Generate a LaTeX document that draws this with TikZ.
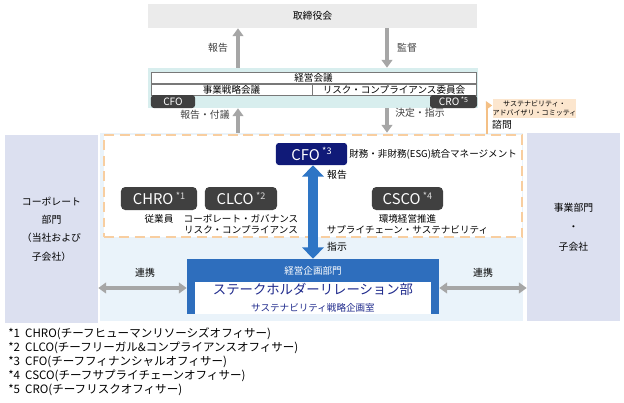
\documentclass[tikz,border=0pt]{standalone}
\usepackage{fontspec}
\setmainfont{Noto Sans CJK JP}
\usepackage{tikz}
\usetikzlibrary{arrows.meta,positioning,calc}
\usepackage{xcolor}
\definecolor{boardgray}{RGB}{235,235,235}
\definecolor{arrowgray}{RGB}{166,166,166}
\definecolor{meetteal}{RGB}{216,238,238}
\definecolor{cellline}{RGB}{120,120,120}
\definecolor{tagdark}{RGB}{64,64,64}
\definecolor{bandblue}{RGB}{234,243,250}
\definecolor{panellav}{RGB}{220,224,240}
\definecolor{frameorange}{RGB}{248,206,160}
\definecolor{susfill}{RGB}{252,230,206}
\definecolor{susline}{RGB}{244,192,134}
\definecolor{cfonavy}{RGB}{16,26,120}
\definecolor{arrowblue}{RGB}{46,117,197}
\definecolor{planblue}{RGB}{46,110,189}
\definecolor{stakenavy}{RGB}{31,42,140}
\definecolor{labelgray}{RGB}{64,64,64}
\tikzstyle{grayarrow} = [line width=2.8pt, arrowgray, -{Triangle[width=7.5pt,length=5.5pt]}]
\tikzstyle{grayboth} = [line width=2.6pt, arrowgray, {Triangle[width=7.5pt,length=5.5pt]}-{Triangle[width=7.5pt,length=5.5pt]}]
\tikzstyle{bluearrow} = [line width=7pt, arrowblue, {Triangle[width=15pt,length=8pt]}-{Triangle[width=15pt,length=8pt]}]
\tikzstyle{orangearrow} = [line width=2pt, susline, -{Triangle[width=6pt,length=4.5pt]}]
\tikzstyle{boardbox} = [rectangle, fill=boardgray, inner sep=0pt, minimum width=8.225cm, minimum height=0.6cm, font=\fontsize{7}{8}\selectfont]
\tikzstyle{meetbox} = [rectangle, fill=meetteal, inner sep=0pt, minimum width=8.25cm, minimum height=1cm]
\tikzstyle{tablecell} = [rectangle, draw=cellline, line width=0.4pt, fill=white, inner sep=0pt, minimum height=0.285cm, font=\fontsize{6.8}{7.5}\selectfont]
\tikzstyle{darktag} = [rectangle, rounded corners=2pt, fill=tagdark, text=white, inner sep=0pt, minimum height=0.325cm, font=\fontsize{7.2}{8}\selectfont]
\tikzstyle{panelbox} = [rectangle, fill=panellav, inner sep=0pt, minimum width=2.325cm, minimum height=4.7cm, align=center, font=\fontsize{7}{13}\selectfont]
\tikzstyle{framebox} = [rectangle, draw=frameorange, line width=1.5pt, dash pattern=on 7pt off 4pt, fill=white, inner sep=0pt, minimum width=10.45cm, minimum height=2.55cm]
\tikzstyle{officerbox} = [rectangle, rounded corners=3pt, fill=tagdark, text=white, inner sep=0pt, minimum height=0.575cm, font=\fontsize{10.5}{12}\selectfont]
\tikzstyle{labeltext} = [inner sep=0pt, text=labelgray, font=\fontsize{7}{8}\selectfont]
\tikzstyle{dutytext} = [inner sep=0pt, align=center, font=\fontsize{6.8}{7.8}\selectfont]

\begin{document}
\begin{tikzpicture}[x=0.025cm, y=-0.025cm]
\useasboundingbox (0,0) rectangle (624,402);

% Board of directors
\node[boardbox] (board) at (312.5,16) {取締役会};

% Management meetings
\node[meetbox] (meet) at (313,88) {};
\node[tablecell, minimum width=8.125cm] (keiei) at (313.5,78) {経営会議};
\node[tablecell, minimum width=4.025cm] (jigyo) at (231.5,89.5) {事業戦略会議};
\node[tablecell, minimum width=4.1cm] (risk) at (394,89.5) {リスク・コンプライアンス委員会};
\node[darktag, minimum width=1.1cm] (cfotag) at (173,101.5) {CFO};
\node[darktag, minimum width=1.175cm] (crotag) at (453.5,101.5) {CRO\,\raisebox{2pt}{\fontsize{5}{6}\selectfont *5}};

% Lower band, side panels and dashed frame
\node[rectangle, fill=bandblue, inner sep=0pt, minimum width=10.575cm, minimum height=4.7cm] (band) at (311.5,227) {};
\node[framebox] (frame) at (313,186) {};
\node[panelbox] (corp) at (51.5,229) {コーポレート\\部門\\（当社および\\子会社）};
\node[panelbox, font=\fontsize{7}{14}\selectfont] (biz) at (573.5,227) {事業部門\\・\\子会社};

% Arrows board <-> meetings <-> band
\coordinate (upx) at (238,0);
\coordinate (downx) at (387,0);
\draw[grayarrow] (meet.north -| upx) -- (board.south -| upx);
\draw[grayarrow] (board.south -| downx) -- (meet.north -| downx);
\draw[grayarrow] (band.north -| upx) -- (meet.south -| upx);
\draw[grayarrow] (meet.south -| downx) -- (band.north -| downx);
\node[labeltext] (lblreport) at (218,48) {報告};
\node[labeltext] (lblsuper) at (407,48) {監督};
\node[labeltext] (lblsubmit) at (205,115) {報告・付議};
\node[labeltext] (lbldecide) at (420,113) {決定・指示};

% Sustainability advisory committee
\node[rectangle, fill=susfill, inner sep=0pt, minimum width=1.975cm, minimum height=0.475cm, align=center, font=\fontsize{5}{6.5}\selectfont] (sus) at (534.5,108.5) {サステナビリティ・\\アドバイザリ・コミッティ};
\coordinate (ox) at (487,0);
\draw[orangearrow] (frame.north -| ox) |- ($(sus.west)+(0,-3)$);
\node[labeltext, text=black] (lblconsult) at (502,125) {諮問};

% Officers
\node[officerbox, rounded corners=2pt, fill=cfonavy, minimum width=1.775cm, minimum height=0.55cm] (cfo) at (311.5,154) {CFO\,\raisebox{4pt}{\fontsize{6.5}{7}\selectfont *3}};
\node[dutytext, anchor=west] (esg) at (349,154) {財務・非財務(ESG)統合マネージメント};
\node[officerbox, minimum width=1.9cm] (chro) at (159,198.5) {CHRO\,\raisebox{4pt}{\fontsize{6.5}{7}\selectfont\color{white!85!black} *1}};
\node[dutytext, below=3pt of chro] (chroduty) {従業員};
\node[officerbox, minimum width=1.8cm] (clco) at (241,198.5) {CLCO\,\raisebox{4pt}{\fontsize{6.5}{7}\selectfont\color{white!85!black} *2}};
\node[dutytext, below=3pt of clco] (clcoduty) {コーポレート・ガバナンス\\リスク・コンプライアンス};
\node[officerbox, minimum width=1.775cm] (csco) at (407.5,198.5) {CSCO\,\raisebox{4pt}{\fontsize{6.5}{7}\selectfont\color{white!85!black} *4}};
\node[dutytext, below=3pt of csco] (cscoduty) {環境経営推進\\サプライチェーン・サステナビリティ};

% Corporate planning division
\node[rectangle, fill=planblue, inner sep=0pt, minimum width=6.3cm, minimum height=1.375cm] (plan) at (313,286.5) {};
\node[inner sep=0pt, text=white, font=\fontsize{6.8}{8}\selectfont] (plantitle) at (313,270.5) {経営企画部門};
\node[rectangle, fill=white, inner sep=0pt, minimum width=5.9cm, minimum height=0.8cm, align=center, text=stakenavy] (stake) at (313,298) {{\fontsize{9.5}{11}\selectfont ステークホルダーリレーション部}\\{\fontsize{6.8}{8}\selectfont サステナビリティ戦略企画室}};

% CFO <-> planning
\draw[bluearrow] (plan.north |- cfo.south) -- (plan.north);
\node[labeltext, text=black] (lblcforeport) at (337,175) {報告};
\node[labeltext, text=black] (lblcfoorder) at (337,247) {指示};

% Cooperation
\coordinate (linky) at (0,288);
\draw[grayboth] (corp.east |- linky) -- (plan.west |- linky);
\draw[grayboth] (plan.east |- linky) -- (biz.west |- linky);
\node[labeltext, text=black] (lblcoopl) at (145,273) {連携};
\node[labeltext, text=black] (lblcoopr) at (483,273) {連携};

% Footnotes
\node[anchor=north west, inner sep=0pt, align=left, font=\fontsize{8.2}{10}\selectfont] (notes) at (8,327) {*1\ \ CHRO(チーフヒューマンリソーシズオフィサー)\\*2\ \ CLCO(チーフリーガル\&コンプライアンスオフィサー)\\*3\ \ CFO(チーフフィナンシャルオフィサー)\\*4\ \ CSCO(チーフサプライチェーンオフィサー)\\*5\ \ CRO(チーフリスクオフィサー)};
\end{tikzpicture}
\end{document}
